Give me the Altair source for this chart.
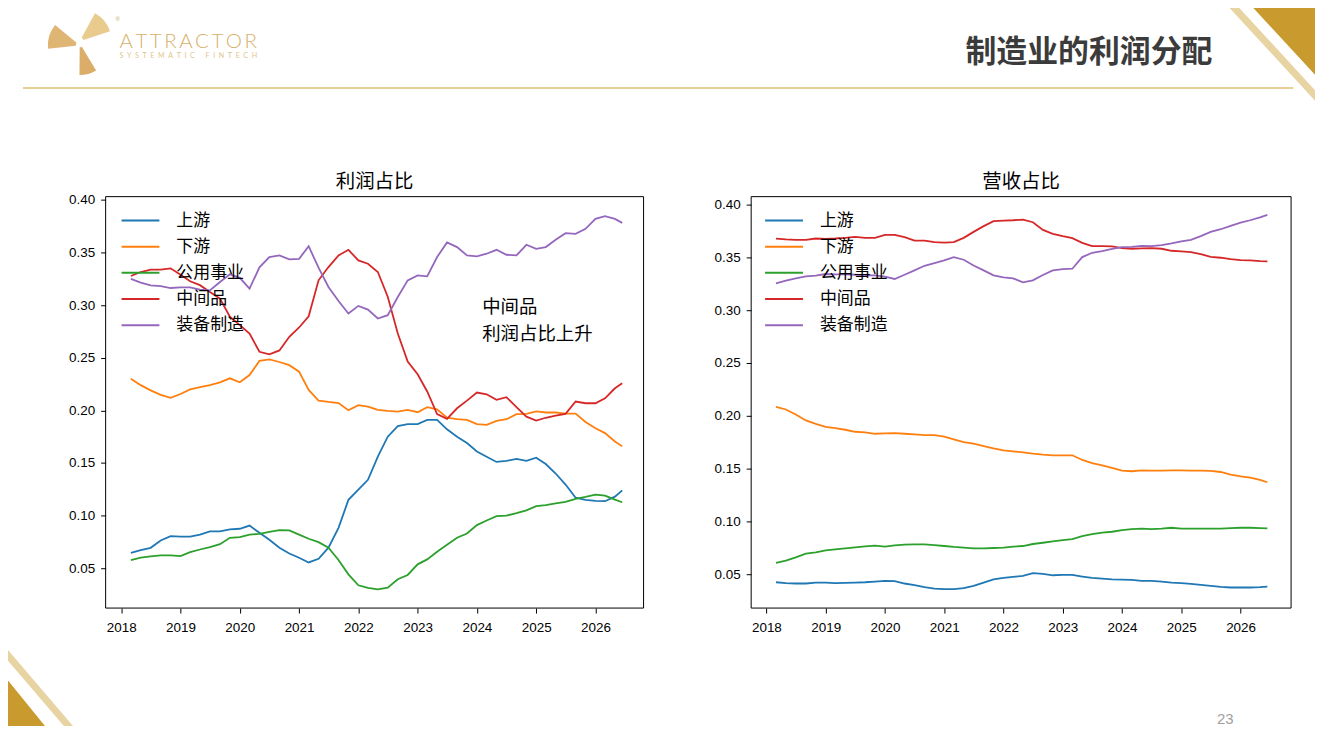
import pandas as pd
import altair as alt

# whole slide is one layered chart, coordinates in px from the page's top-left (minus the 8px margin)
W, H = 1312, 718
CJK = "Noto Sans CJK SC"

names = ["上游", "下游", "公用事业", "中间品", "装备制造"]
colors = ["#1f77b4", "#ff7f0e", "#2ca02c", "#d62728", "#9467bd"]

# bi-monthly observations, last one mid June 2026
dates = [d.strftime("%Y-%m-%d") for d in pd.date_range("2018-03-01", "2026-05-01", freq="2MS")] + ["2026-06-15"]

# 利润占比
profit_upstream = [0.0647, 0.0673, 0.0694, 0.0764, 0.0805, 0.0800, 0.0800, 0.0820, 0.0850, 0.0850,
                   0.0870, 0.0875, 0.0905, 0.0837, 0.0770, 0.0695, 0.0640, 0.0600, 0.0555, 0.0590,
                   0.0695, 0.0884, 0.1150, 0.1247, 0.1340, 0.1560, 0.1750, 0.1850, 0.1870, 0.1870,
                   0.1910, 0.1910, 0.1820, 0.1750, 0.1690, 0.1610, 0.1560, 0.1510, 0.1520, 0.1540,
                   0.1520, 0.1550, 0.1490, 0.1400, 0.1295, 0.1170, 0.1150, 0.1140, 0.1137, 0.1180,
                   0.1240]
profit_downstream = [0.2300, 0.2240, 0.2190, 0.2147, 0.2120, 0.2156, 0.2200, 0.2220, 0.2240, 0.2267,
                     0.2305, 0.2267, 0.2336, 0.2470, 0.2485, 0.2460, 0.2430, 0.2368, 0.2195, 0.2093,
                     0.2080, 0.2070, 0.2002, 0.2050, 0.2036, 0.2005, 0.1995, 0.1989, 0.2005, 0.1983,
                     0.2030, 0.2010, 0.1930, 0.1916, 0.1910, 0.1870, 0.1863, 0.1900, 0.1916, 0.1964,
                     0.1967, 0.1990, 0.1980, 0.1980, 0.1970, 0.1970, 0.1890, 0.1830, 0.1784, 0.1705,
                     0.1658]
profit_utility = [0.0578, 0.0600, 0.0613, 0.0622, 0.0622, 0.0615, 0.0653, 0.0678, 0.0700, 0.0729,
                  0.0789, 0.0796, 0.0820, 0.0827, 0.0846, 0.0862, 0.0860, 0.0820, 0.0780, 0.0748,
                  0.0695, 0.0578, 0.0442, 0.0338, 0.0313, 0.0300, 0.0316, 0.0395, 0.0436, 0.0537,
                  0.0584, 0.0657, 0.0723, 0.0790, 0.0830, 0.0910, 0.0954, 0.0995, 0.1000, 0.1023,
                  0.1050, 0.1090, 0.1100, 0.1116, 0.1130, 0.1160, 0.1178, 0.1200, 0.1190, 0.1152,
                  0.1127]
profit_intermediate = [0.3277, 0.3315, 0.3337, 0.3337, 0.3350, 0.3290, 0.3227, 0.3190, 0.3126, 0.3062,
                       0.2890, 0.2810, 0.2730, 0.2557, 0.2532, 0.2570, 0.2700, 0.2788, 0.2895, 0.3236,
                       0.3362, 0.3473, 0.3526, 0.3425, 0.3394, 0.3315, 0.3080, 0.2730, 0.2463, 0.2343,
                       0.2180, 0.1964, 0.1920, 0.2020, 0.2093, 0.2170, 0.2153, 0.2100, 0.2125, 0.2030,
                       0.1940, 0.1904, 0.1930, 0.1951, 0.1967, 0.2084, 0.2068, 0.2068, 0.2115, 0.2210,
                       0.2257]
profit_equipment = [0.3249, 0.3214, 0.3189, 0.3180, 0.3163, 0.3170, 0.3170, 0.3147, 0.3140, 0.3220,
                    0.3293, 0.3260, 0.3157, 0.3360, 0.3457, 0.3473, 0.3435, 0.3440, 0.3560, 0.3356,
                    0.3173, 0.3040, 0.2920, 0.2993, 0.2958, 0.2873, 0.2905, 0.3078, 0.3236, 0.3283,
                    0.3274, 0.3457, 0.3596, 0.3552, 0.3473, 0.3463, 0.3489, 0.3526, 0.3479, 0.3473,
                    0.3574, 0.3536, 0.3552, 0.3621, 0.3684, 0.3678, 0.3725, 0.3820, 0.3845, 0.3820,
                    0.3782]

# 营收占比
rev_upstream = [0.0424, 0.0415, 0.0412, 0.0412, 0.0421, 0.0421, 0.0415, 0.0418, 0.0421, 0.0424,
                0.0430, 0.0437, 0.0434, 0.0412, 0.0396, 0.0377, 0.0364, 0.0358, 0.0358, 0.0368,
                0.0390, 0.0421, 0.0452, 0.0465, 0.0475, 0.0484, 0.0510, 0.0503, 0.0490, 0.0493,
                0.0493, 0.0478, 0.0465, 0.0459, 0.0452, 0.0449, 0.0446, 0.0437, 0.0437, 0.0430,
                0.0421, 0.0415, 0.0408, 0.0399, 0.0390, 0.0380, 0.0374, 0.0374, 0.0374, 0.0377,
                0.0383]
rev_downstream = [0.2085, 0.2060, 0.2012, 0.1956, 0.1924, 0.1896, 0.1884, 0.1868, 0.1849, 0.1843,
                  0.1830, 0.1833, 0.1836, 0.1830, 0.1824, 0.1817, 0.1817, 0.1802, 0.1777, 0.1751,
                  0.1736, 0.1714, 0.1692, 0.1673, 0.1663, 0.1654, 0.1641, 0.1632, 0.1626, 0.1626,
                  0.1626, 0.1582, 0.1553, 0.1531, 0.1506, 0.1481, 0.1475, 0.1484, 0.1481, 0.1481,
                  0.1484, 0.1484, 0.1481, 0.1481, 0.1478, 0.1468, 0.1443, 0.1427, 0.1415, 0.1393,
                  0.1371]
rev_utility = [0.0607, 0.0629, 0.0660, 0.0695, 0.0707, 0.0726, 0.0736, 0.0745, 0.0755, 0.0764,
               0.0770, 0.0761, 0.0773, 0.0780, 0.0783, 0.0783, 0.0776, 0.0767, 0.0758, 0.0751,
               0.0745, 0.0745, 0.0748, 0.0751, 0.0761, 0.0767, 0.0786, 0.0798, 0.0811, 0.0823,
               0.0833, 0.0861, 0.0880, 0.0893, 0.0902, 0.0918, 0.0927, 0.0931, 0.0927, 0.0931,
               0.0940, 0.0931, 0.0931, 0.0931, 0.0931, 0.0931, 0.0937, 0.0940, 0.0940, 0.0937,
               0.0934]
rev_intermediate = [0.3679, 0.3670, 0.3667, 0.3667, 0.3679, 0.3676, 0.3679, 0.3685, 0.3695, 0.3685,
                    0.3685, 0.3714, 0.3714, 0.3692, 0.3660, 0.3660, 0.3645, 0.3641, 0.3645, 0.3685,
                    0.3742, 0.3796, 0.3843, 0.3849, 0.3852, 0.3858, 0.3833, 0.3761, 0.3723, 0.3701,
                    0.3682, 0.3638, 0.3607, 0.3607, 0.3604, 0.3588, 0.3582, 0.3585, 0.3588, 0.3582,
                    0.3563, 0.3557, 0.3550, 0.3531, 0.3506, 0.3497, 0.3484, 0.3475, 0.3472, 0.3465,
                    0.3462]
rev_equipment = [0.3255, 0.3280, 0.3302, 0.3321, 0.3327, 0.3343, 0.3340, 0.3340, 0.3336, 0.3330,
                 0.3330, 0.3318, 0.3296, 0.3336, 0.3377, 0.3421, 0.3446, 0.3472, 0.3503, 0.3478,
                 0.3424, 0.3377, 0.3330, 0.3311, 0.3302, 0.3264, 0.3283, 0.3333, 0.3377, 0.3390,
                 0.3393, 0.3503, 0.3544, 0.3560, 0.3582, 0.3597, 0.3600, 0.3610, 0.3607, 0.3616,
                 0.3632, 0.3651, 0.3667, 0.3701, 0.3742, 0.3767, 0.3799, 0.3830, 0.3852, 0.3880,
                 0.3903]

years = list(range(2018, 2027))
y_ticks = [0.05, 0.10, 0.15, 0.20, 0.25, 0.30, 0.35, 0.40]
note_lines = ["中间品", "利润占比上升"]


def long_table(columns):
    df = pd.DataFrame(dict(zip(names, columns)))
    d = pd.to_datetime(pd.Series(dates))
    df["year"] = d.dt.year + (d.dt.dayofyear - 1) / 365.25
    return df.melt(id_vars="year", var_name="series", value_name="share")


profit = long_table([profit_upstream, profit_downstream, profit_utility, profit_intermediate, profit_equipment])
revenue = long_table([rev_upstream, rev_downstream, rev_utility, rev_intermediate, rev_equipment])

color_scale = alt.Scale(domain=names, range=colors)
one = pd.DataFrame({"k": [0]})
legend_df = pd.DataFrame({"series": names})


def text(t, x, y, **kw):
    return alt.Chart(one).mark_text(text=t, **kw).encode(x=alt.value(x), y=alt.value(y))


def panel(df, x_range, y_range, frame, leg_x, title):
    x0, x1, y0, y1 = frame
    lines = alt.Chart(df).mark_line(strokeWidth=1.8).encode(
        x=alt.X("year:Q", title=None,
                scale=alt.Scale(domain=[2018, 2026], range=x_range, nice=False, zero=False),
                axis=alt.Axis(orient="bottom", offset=y1 - H, values=years, format="d", domain=False,
                              grid=False, tickSize=5, tickColor="black", labelColor="black",
                              labelFont="Liberation Sans", labelFontSize=13.5, labelPadding=8,
                              labelFlush=False)),
        y=alt.Y("share:Q", title=None,
                scale=alt.Scale(domain=[0.05, 0.40], range=y_range, nice=False, zero=False),
                axis=alt.Axis(orient="left", offset=-x0, values=y_ticks, format=".2f", domain=False,
                              grid=False, tickSize=5, tickColor="black", labelColor="black",
                              labelFont="Liberation Sans", labelFontSize=13.5, labelPadding=6,
                              labelFlush=False)),
        color=alt.Color("series:N", scale=color_scale, legend=None),
    )
    box = alt.Chart(one).mark_rect(filled=False, stroke="black", strokeWidth=1).encode(
        x=alt.value(x0), x2=alt.value(x1), y=alt.value(y0), y2=alt.value(y1))
    ysc = alt.Scale(type="point", domain=names, range=[212, 317], padding=0)
    leg_rules = alt.Chart(legend_df).mark_rule(strokeWidth=2).encode(
        x=alt.value(leg_x), x2=alt.value(leg_x + 38),
        y=alt.Y("series:N", scale=ysc, axis=None),
        color=alt.Color("series:N", scale=color_scale, legend=None))
    leg_text = alt.Chart(legend_df).mark_text(align="left", baseline="middle", fontSize=17, font=CJK,
                                              color="black").encode(
        x=alt.value(leg_x + 55), y=alt.Y("series:N", scale=ysc, axis=None), text="series:N")
    head = text(title, (x0 + x1) / 2, 173, fontSize=19.5, font=CJK, color="black", baseline="middle")
    return [lines, box, leg_rules, leg_text, head]


# slide decoration: gold corner triangles and the thin light stripes beside them
deco = pd.DataFrame({
    "shape": ["tr", "tr", "bl", "bl"],
    "px": [1244, 1330, -10, 45],
    "py": [-8, -8, 661.5, 729],
    "py2": [-8, 85, 730, 730],
})
stripes = pd.DataFrame({
    "shape": ["tr", "tr", "bl", "bl"],
    "px": [1215, 1330, -20, 80],
    "py": [-24.2, 100.6, 619.6, 736.6],
    "py2": [-13.6, 111.2, 630.4, 747.4],
})


def polygons(df, color):
    return alt.Chart(df).mark_area(color=color, orient="vertical").encode(
        x=alt.X("px:Q", scale=alt.Scale(domain=[0, W], range=[0, W], nice=False, zero=False), axis=None),
        y=alt.Y("py:Q", scale=alt.Scale(domain=[0, H], range=[0, H], nice=False, zero=False), axis=None),
        y2="py2:Q",
        detail="shape:N",
    )


def wing(cx, cy, t0, t1, r, color):
    return alt.Chart(one).mark_arc(theta=t0, theta2=t1, radius=r, radius2=4, color=color,
                                   opacity=0.85).encode(x=alt.value(cx), y=alt.value(cy))


layers = [
    polygons(stripes, "#E8D4A2"),
    polygons(deco, "#C99A2E"),
    alt.Chart(one).mark_rule(color="#E6CF95", strokeWidth=2).encode(
        x=alt.value(15), x2=alt.value(1290), y=alt.value(79)),
    wing(72, 32, 0.5, 1.25, 32, "#E6C27A"),
    wing(72, 36, 4.6, 5.4, 32, "#D9A85A"),
    wing(72, 34, 2.6, 3.15, 32, "#D4A04E"),
    text("\u2009".join("ATTRACTOR"), 112, 39, font="Lato", fontWeight=300, fontSize=20.5,
         color="#D6B06A", align="left", baseline="alphabetic"),
    text("\u2002".join("SYSTEMATIC") + "\u2002\u2002\u2002" + "\u2002".join("FINTECH"), 112, 47,
         font="Lato", fontSize=7.2, color="#E0C68D", align="left", baseline="middle"),
    text("®", 110, 10, fontSize=6, color="#C9A45A", align="center", baseline="middle"),
    text("制造业的利润分配", 1209, 44, font=CJK, fontWeight="bold", fontSize=31, color="#3B3B3B",
         align="right", baseline="middle"),
    text("23", 1222, 712, font="Liberation Sans", fontSize=15, color="#A0A0A0", align="center",
         baseline="middle"),
]
layers += panel(profit, [113.7, 589.7], [561, 191.3], (98, 638, 188, 601), 114, "利润占比")
layers += panel(revenue, [761.3, 1237.3], [567, 196], (746, 1288, 188, 601), 760, "营收占比")
layers += [
    text(note_lines, 476, 290, font=CJK, fontSize=18.5, lineHeight=27, color="black", align="left",
         baseline="top"),
]

chart = alt.layer(*layers).resolve_scale(
    x="independent", y="independent"
).properties(
    width=W, height=H, padding=0, autosize=alt.AutoSizeParams(type="none"), background="white"
).configure_view(stroke=None)

chart.save("out.html", embed_options={"renderer": "svg", "actions": False})
